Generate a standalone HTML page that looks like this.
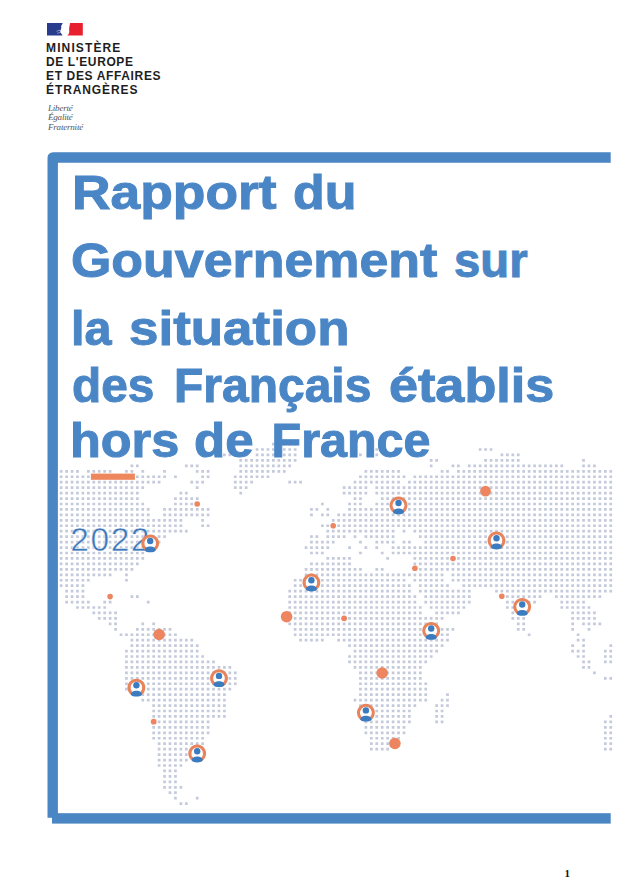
<!DOCTYPE html>
<html><head><meta charset="utf-8">
<style>
html,body{margin:0;padding:0;background:#fff;}
body{width:628px;height:893px;position:relative;overflow:hidden;font-family:"Liberation Sans",sans-serif;}
.abs{position:absolute;}
.min{left:46px;top:41.3px;font-weight:bold;font-size:12px;line-height:14px;letter-spacing:0.9px;color:#1e1e1e;white-space:nowrap;}
.dev{left:48px;top:104px;font-family:"Liberation Serif",serif;font-style:italic;font-size:9px;line-height:9.3px;letter-spacing:-0.2px;color:#555;white-space:nowrap;}
.t{left:73px;font-weight:bold;font-size:48.5px;color:#4a86c6;-webkit-text-stroke:1px #4a86c6;white-space:nowrap;line-height:1;transform-origin:0 0;}
.yr{left:70.3px;font-size:33.6px;letter-spacing:1.5px;-webkit-text-stroke:0.5px #fff;color:#3e78b8;line-height:1;}
.pg{left:564.5px;top:868.3px;font-family:"Liberation Serif",serif;font-weight:bold;font-size:11px;line-height:11px;color:#111;}
</style></head><body>
<svg class="abs" style="left:0;top:0" width="628" height="893" viewBox="0 0 628 893">
<path d="M47.5 817.8V157.7A5.5 5.5 0 0 1 53 152.2H610.7V162.7H57.9V817.8Z" fill="#4a86c4"/>
<rect x="52" y="813.2" width="558.7" height="10.4" fill="#4a86c4"/>
<path d="M273.38 444.05H295.54M257.05 449.50H295.54M376.77 449.50H377.17M480.16 449.50H491.44M224.40 454.95H230.25M257.05 454.95H295.54M360.44 454.95H360.84M376.77 454.95H377.17M501.92 454.95H518.65M240.73 460.40H295.54M431.18 460.40H437.02M485.60 460.40H518.65M583.54 460.40H583.94M131.90 465.84H137.74M186.31 465.84H197.60M240.73 465.84H290.10M431.18 465.84H431.58M452.95 465.84H458.79M469.27 465.84H562.18M583.54 465.84H594.83M61.16 471.29H77.88M88.37 471.29H110.53M126.46 471.29H132.30M142.78 471.29H143.18M164.55 471.29H164.95M197.20 471.29H208.48M240.73 471.29H284.66M365.88 471.29H398.93M442.06 471.29H447.91M458.39 471.29H611.15M61.16 476.74H164.95M175.43 476.74H175.83M202.64 476.74H208.48M235.29 476.74H268.34M360.44 476.74H404.37M414.86 476.74H611.15M61.16 482.19H159.51M191.76 482.19H203.04M235.29 482.19H252.01M289.70 482.19H300.99M355.00 482.19H398.93M409.42 482.19H611.15M61.16 487.64H143.18M197.20 487.64H197.60M235.29 487.64H246.57M344.12 487.64H366.28M376.77 487.64H611.15M61.16 493.08H137.74M180.87 493.08H186.71M240.73 493.08H241.13M344.12 493.08H366.28M376.77 493.08H611.15M61.16 498.53H137.74M175.43 498.53H197.60M355.00 498.53H360.84M382.21 498.53H611.15M61.16 503.98H143.18M175.43 503.98H197.60M322.35 503.98H322.75M349.56 503.98H360.84M376.77 503.98H611.15M61.16 509.43H148.62M164.55 509.43H208.48M311.47 509.43H317.31M327.79 509.43H328.19M349.56 509.43H611.15M61.16 514.88H148.62M164.55 514.88H208.48M311.47 514.88H311.87M322.35 514.88H328.19M338.68 514.88H611.15M61.16 520.32H181.27M202.64 520.32H203.04M333.24 520.32H611.15M61.16 525.77H181.27M202.64 525.77H208.48M322.35 525.77H611.15M61.16 531.22H186.71M327.79 531.22H393.49M403.97 531.22H404.37M414.86 531.22H611.15M61.16 536.67H164.95M311.47 536.67H317.31M327.79 536.67H344.52M355.00 536.67H355.40M365.88 536.67H393.49M420.30 536.67H611.15M61.16 542.12H159.51M311.47 542.12H333.63M360.44 542.12H360.84M376.77 542.12H393.49M403.97 542.12H409.82M425.74 542.12H611.15M61.16 547.56H148.62M306.03 547.56H328.19M349.56 547.56H349.96M365.88 547.56H366.28M376.77 547.56H377.17M393.09 547.56H611.15M61.16 553.01H143.18M311.47 553.01H322.75M360.44 553.01H360.84M382.21 553.01H382.61M393.09 553.01H611.15M61.16 558.46H143.18M327.79 558.46H349.96M387.65 558.46H388.05M414.86 558.46H611.15M61.16 563.91H137.74M311.47 563.91H349.96M414.86 563.91H611.15M61.16 569.36H132.30M306.03 569.36H360.84M376.77 569.36H382.61M414.86 569.36H611.15M61.16 574.80H110.53M126.46 574.80H126.86M306.03 574.80H442.46M452.95 574.80H611.15M61.16 580.25H88.77M126.46 580.25H126.86M295.14 580.25H404.37M414.86 580.25H442.46M452.95 580.25H611.15M61.16 585.70H83.33M295.14 585.70H409.82M420.30 585.70H447.91M463.83 585.70H611.15M66.60 591.15H83.33M289.70 591.15H409.82M420.30 591.15H469.67M496.48 591.15H611.15M66.60 596.60H83.33M131.90 596.60H137.74M289.70 596.60H415.26M425.74 596.60H469.67M501.92 596.60H540.41M556.34 596.60H600.27M66.60 602.04H88.77M104.69 602.04H110.53M148.22 602.04H148.62M289.70 602.04H415.26M425.74 602.04H469.67M507.36 602.04H534.97M561.78 602.04H583.94M77.48 607.49H105.09M289.70 607.49H420.70M431.18 607.49H464.23M507.36 607.49H529.53M561.78 607.49H589.39M93.81 612.94H115.97M289.70 612.94H420.70M436.62 612.94H458.79M512.80 612.94H524.09M572.66 612.94H594.83M99.25 618.39H115.97M295.14 618.39H442.46M512.80 618.39H524.09M572.66 618.39H594.83M110.13 623.84H115.97M142.78 623.84H143.18M153.67 623.84H154.07M289.70 623.84H437.02M518.25 623.84H524.09M572.66 623.84H573.06M583.54 623.84H600.27M115.57 629.28H115.97M137.34 629.28H170.39M295.14 629.28H453.35M518.25 629.28H524.09M572.66 629.28H573.06M588.99 629.28H589.39M121.02 634.73H175.83M295.14 634.73H447.91M529.13 634.73H529.53M578.10 634.73H578.50M131.90 640.18H192.16M300.59 640.18H322.75M338.68 640.18H447.91M578.10 640.18H583.94M131.90 645.63H197.60M349.56 645.63H442.46M572.66 645.63H573.06M583.54 645.63H583.94M610.75 645.63H611.15M126.46 651.08H197.60M355.00 651.08H437.02M572.66 651.08H583.94M605.31 651.08H611.15M126.46 656.52H203.04M349.56 656.52H431.58M578.10 656.52H583.94M605.31 656.52H611.15M126.46 661.97H213.92M349.56 661.97H426.14M583.54 661.97H589.39M605.31 661.97H611.15M126.46 667.42H230.25M355.00 667.42H420.70M583.54 667.42H589.39M126.46 672.87H235.69M360.44 672.87H420.70M594.43 672.87H594.83M126.46 678.32H235.69M360.44 678.32H420.70M605.31 678.32H611.15M126.46 683.76H235.69M360.44 683.76H426.14M126.46 689.21H230.25M360.44 689.21H426.14M142.78 694.66H224.80M360.44 694.66H426.14M447.51 694.66H447.91M142.78 700.11H224.80M355.00 700.11H426.14M442.06 700.11H447.91M153.67 705.56H224.80M360.44 705.56H415.26M436.62 705.56H447.91M153.67 711.00H224.80M360.44 711.00H409.82M436.62 711.00H442.46M153.67 716.45H224.80M360.44 716.45H409.82M436.62 716.45H442.46M610.75 716.45H611.15M153.67 721.90H208.48M365.88 721.90H409.82M436.62 721.90H442.46M605.31 721.90H611.15M153.67 727.35H208.48M365.88 727.35H404.37M605.31 727.35H611.15M153.67 732.80H208.48M365.88 732.80H404.37M605.31 732.80H611.15M153.67 738.24H203.04M371.33 738.24H398.93M605.31 738.24H611.15M159.11 743.69H203.04M371.33 743.69H393.49M605.31 743.69H611.15M159.11 749.14H203.04M371.33 749.14H388.05M605.31 749.14H611.15M159.11 754.59H186.71M159.11 760.04H186.71M159.11 765.48H181.27M164.55 770.93H175.83M164.55 776.38H175.83M164.55 781.83H175.83M164.55 787.28H181.27M169.99 792.72H175.83M175.43 798.17H175.83M197.20 798.17H197.60M180.87 803.62H186.71" fill="none" stroke="#c4cadb" stroke-width="2.7" stroke-linecap="square" stroke-dasharray="0 5.4415"/>
</svg>
<div class="abs min"><span style="letter-spacing:1.13px">MINISTÈRE</span><br><span style="letter-spacing:0.61px">DE L'EUROPE</span><br><span style="letter-spacing:0.64px">ET DES AFFAIRES</span><br><span style="letter-spacing:0.9px">ÉTRANGÈRES</span></div>
<div class="abs dev">Liberté<br>Égalité<br>Fraternité</div>
<svg class="abs" style="left:0;top:0" width="628" height="893" viewBox="0 0 628 893">
<path d="M47 23H62.7L62 24.6Q60.6 26 61.3 27.6L60.9 29.4Q59.6 30.6 60.4 32.2L62.6 35.4H47Z" fill="#283b8c"/><path d="M56.5 31.2L60 30.3M57.2 33.2L60.6 32.4" stroke="#fff" stroke-width="0.6" opacity="0.8"/>
<path d="M70.2 23H82.8V35.4H67.3Q68.9 34.6 69.2 32.6Q69.4 30.8 69.1 29.2Q69.2 26 70.2 23Z" fill="#e8202e"/>
</svg>
<div class="abs t" style="left:72.00px;top:167.65px;transform:scaleX(1.1004)">Rapport</div>
<div class="abs t" style="left:292.80px;top:167.65px;transform:scaleX(1.0726)">du</div>
<div class="abs t" style="left:71.20px;top:235.95px;transform:scaleX(1.0700)">Gouvernement</div>
<div class="abs t" style="left:453.70px;top:235.95px;transform:scaleX(0.9747)">sur</div>
<div class="abs t" style="left:70.60px;top:304.25px;transform:scaleX(1.0017)">la</div>
<div class="abs t" style="left:128.60px;top:304.25px;transform:scaleX(1.0912)">situation</div>
<div class="abs t" style="left:72.30px;top:360.85px;transform:scaleX(0.9858)">des</div>
<div class="abs t" style="left:173.60px;top:360.85px;transform:scaleX(0.9891)">Français</div>
<div class="abs t" style="left:388.70px;top:360.85px;transform:scaleX(1.0753)">établis</div>
<div class="abs t" style="left:69.60px;top:416.05px;transform:scaleX(1.0396)">hors</div>
<div class="abs t" style="left:193.60px;top:416.05px;transform:scaleX(1.0516)">de</div>
<div class="abs t" style="left:271.50px;top:416.05px;transform:scaleX(1.0000)">France</div>
<svg class="abs" style="left:0;top:0" width="628" height="893" viewBox="0 0 628 893">
<rect x="90.9" y="473.6" width="44" height="6.2" fill="#ee875e"/>
</svg>
<div class="abs yr" id="yr" style="top:522.6px">2022</div>
<svg class="abs" style="left:0;top:0" width="628" height="893" viewBox="0 0 628 893">
<circle cx="197.2" cy="504" r="2.8" fill="#ec8560"/><circle cx="485.5" cy="491.1" r="5.4" fill="#ec8560"/><circle cx="333.2" cy="525.7" r="2.8" fill="#ec8560"/><circle cx="110.1" cy="596.6" r="2.8" fill="#ec8560"/><circle cx="414.9" cy="568.2" r="2.8" fill="#ec8560"/><circle cx="453" cy="558.5" r="2.8" fill="#ec8560"/><circle cx="501.8" cy="596.3" r="2.8" fill="#ec8560"/><circle cx="159.1" cy="634.5" r="5.8" fill="#ec8560"/><circle cx="286.6" cy="616.7" r="5.8" fill="#ec8560"/><circle cx="344.1" cy="618.3" r="2.9" fill="#ec8560"/><circle cx="382.2" cy="673" r="5.8" fill="#ec8560"/><circle cx="153.7" cy="721.7" r="2.9" fill="#ec8560"/><circle cx="394.9" cy="743.5" r="5.8" fill="#ec8560"/>
<g transform="translate(150.2 543.3)"><circle r="7.3" fill="#fff"/><path d="M-2.53 6.95A7.4 7.4 0 1 1 2.53 6.95" fill="none" stroke="#e8845c" stroke-width="3"/><circle cy="-2.3" r="3.2" fill="#3b7cc0"/><path d="M-5.5 6.6C-5.5 4.5 -3 3.1 0 3.1S5.5 4.5 5.5 6.6C5.5 8.1 3 8.9 0 8.9S-5.5 8.1 -5.5 6.6Z" fill="#3b7cc0"/></g><g transform="translate(398.5 505.3)"><circle r="7.3" fill="#fff"/><path d="M-2.53 6.95A7.4 7.4 0 1 1 2.53 6.95" fill="none" stroke="#e8845c" stroke-width="3"/><circle cy="-2.3" r="3.2" fill="#3b7cc0"/><path d="M-5.5 6.6C-5.5 4.5 -3 3.1 0 3.1S5.5 4.5 5.5 6.6C5.5 8.1 3 8.9 0 8.9S-5.5 8.1 -5.5 6.6Z" fill="#3b7cc0"/></g><g transform="translate(311.4 582.5)"><circle r="7.3" fill="#fff"/><path d="M-2.53 6.95A7.4 7.4 0 1 1 2.53 6.95" fill="none" stroke="#e8845c" stroke-width="3"/><circle cy="-2.3" r="3.2" fill="#3b7cc0"/><path d="M-5.5 6.6C-5.5 4.5 -3 3.1 0 3.1S5.5 4.5 5.5 6.6C5.5 8.1 3 8.9 0 8.9S-5.5 8.1 -5.5 6.6Z" fill="#3b7cc0"/></g><g transform="translate(496.5 540.5)"><circle r="7.3" fill="#fff"/><path d="M-2.53 6.95A7.4 7.4 0 1 1 2.53 6.95" fill="none" stroke="#e8845c" stroke-width="3"/><circle cy="-2.3" r="3.2" fill="#3b7cc0"/><path d="M-5.5 6.6C-5.5 4.5 -3 3.1 0 3.1S5.5 4.5 5.5 6.6C5.5 8.1 3 8.9 0 8.9S-5.5 8.1 -5.5 6.6Z" fill="#3b7cc0"/></g><g transform="translate(522.2 606.8)"><circle r="7.3" fill="#fff"/><path d="M-2.53 6.95A7.4 7.4 0 1 1 2.53 6.95" fill="none" stroke="#e8845c" stroke-width="3"/><circle cy="-2.3" r="3.2" fill="#3b7cc0"/><path d="M-5.5 6.6C-5.5 4.5 -3 3.1 0 3.1S5.5 4.5 5.5 6.6C5.5 8.1 3 8.9 0 8.9S-5.5 8.1 -5.5 6.6Z" fill="#3b7cc0"/></g><g transform="translate(431.2 630.8)"><circle r="7.3" fill="#fff"/><path d="M-2.53 6.95A7.4 7.4 0 1 1 2.53 6.95" fill="none" stroke="#e8845c" stroke-width="3"/><circle cy="-2.3" r="3.2" fill="#3b7cc0"/><path d="M-5.5 6.6C-5.5 4.5 -3 3.1 0 3.1S5.5 4.5 5.5 6.6C5.5 8.1 3 8.9 0 8.9S-5.5 8.1 -5.5 6.6Z" fill="#3b7cc0"/></g><g transform="translate(136.4 687.6)"><circle r="7.3" fill="#fff"/><path d="M-2.53 6.95A7.4 7.4 0 1 1 2.53 6.95" fill="none" stroke="#e8845c" stroke-width="3"/><circle cy="-2.3" r="3.2" fill="#3b7cc0"/><path d="M-5.5 6.6C-5.5 4.5 -3 3.1 0 3.1S5.5 4.5 5.5 6.6C5.5 8.1 3 8.9 0 8.9S-5.5 8.1 -5.5 6.6Z" fill="#3b7cc0"/></g><g transform="translate(219 678.2)"><circle r="7.3" fill="#fff"/><path d="M-2.53 6.95A7.4 7.4 0 1 1 2.53 6.95" fill="none" stroke="#e8845c" stroke-width="3"/><circle cy="-2.3" r="3.2" fill="#3b7cc0"/><path d="M-5.5 6.6C-5.5 4.5 -3 3.1 0 3.1S5.5 4.5 5.5 6.6C5.5 8.1 3 8.9 0 8.9S-5.5 8.1 -5.5 6.6Z" fill="#3b7cc0"/></g><g transform="translate(365.9 712.7)"><circle r="7.3" fill="#fff"/><path d="M-2.53 6.95A7.4 7.4 0 1 1 2.53 6.95" fill="none" stroke="#e8845c" stroke-width="3"/><circle cy="-2.3" r="3.2" fill="#3b7cc0"/><path d="M-5.5 6.6C-5.5 4.5 -3 3.1 0 3.1S5.5 4.5 5.5 6.6C5.5 8.1 3 8.9 0 8.9S-5.5 8.1 -5.5 6.6Z" fill="#3b7cc0"/></g><g transform="translate(197.2 753.5)"><circle r="7.3" fill="#fff"/><path d="M-2.53 6.95A7.4 7.4 0 1 1 2.53 6.95" fill="none" stroke="#e8845c" stroke-width="3"/><circle cy="-2.3" r="3.2" fill="#3b7cc0"/><path d="M-5.5 6.6C-5.5 4.5 -3 3.1 0 3.1S5.5 4.5 5.5 6.6C5.5 8.1 3 8.9 0 8.9S-5.5 8.1 -5.5 6.6Z" fill="#3b7cc0"/></g>
</svg>
<div class="abs pg">1</div>
</body></html>
